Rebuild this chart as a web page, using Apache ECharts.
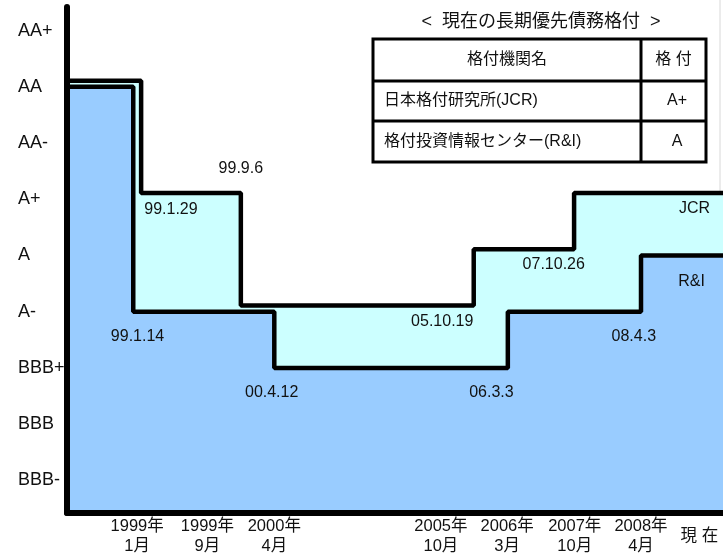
<!DOCTYPE html>
<html>
<head>
<meta charset="utf-8">
<script src="https://cdn.jsdelivr.net/npm/echarts@6/dist/echarts.min.js"></script>
<style>
  html, body { margin: 0; padding: 0; background: #fff; }
  #chart { width: 723px; height: 556px; }
</style>
</head>
<body>
<div id="chart"></div>
<script>
// rating scale, lowest first (BBB- = 1 ... AA+ = 9)
const ratingNames = ['BBB-', 'BBB', 'BBB+', 'A-', 'A', 'A+', 'AA-', 'AA', 'AA+']

// schematic time axis (0 = left edge, 100 = 現在 edge)
const xTickPos = [10.7, 21.4, 31.6, 57.0, 67.1, 77.4, 87.5, 96.4]
const xTickLabels = ['1999年\n1月', '1999年\n9月', '2000年\n4月', '2005年\n10月',
  '2006年\n3月', '2007年\n10月', '2008年\n4月', '現 在']

// rating changes
const jcrX = [0, 11.3, 26.5, 62.0, 77.3, 100]
const jcrRating = ['AA', 'A+', 'A-', 'A', 'A+', 'A+']
const riX = [0, 10.1, 31.6, 67.2, 87.5, 100]
const riRating = ['AA', 'A-', 'BBB+', 'A-', 'A', 'A']

// date notes near each change
const noteText = ['99.1.29', '99.1.14', '99.9.6', '00.4.12', '05.10.19', '06.3.3', '07.10.26', '08.4.3', 'JCR', 'R&I']
const noteX = [15.85, 10.75, 26.5, 31.2, 57.2, 64.7, 74.2, 86.4, 95.65, 95.2]
const noteY = [5.81, 3.55, 6.54, 2.57, 3.83, 2.57, 4.83, 3.55, 5.83, 4.54]

// current ratings table
const tableTitle = '<  現在の長期優先債務格付  >'
const tableHead = ['格付機関名', '格 付']
const tableAgency = ['日本格付研究所(JCR)', '格付投資情報センター(R&I)']
const tableGrade = ['A+', 'A']

const jcrOffset = 0.11 // lift JCR outline so both lines stay visible
const FONT = "'Liberation Sans', 'Noto Sans CJK JP', sans-serif"
const level = name => ratingNames.indexOf(name) + 1

const chart = echarts.init(document.getElementById('chart'))

const stepSeries = (xs, ratings, fill, offset) => ({
  type: 'line',
  step: 'end',
  showSymbol: false,
  silent: true,
  data: xs.map((x, i) => [x, level(ratings[i]) + offset]),
  lineStyle: { color: '#000', width: 4.5 },
  areaStyle: { color: fill, opacity: 1, origin: 'start' }
})

const tableX = 373, tableR = 706, colX = 641
const rowY = [39, 81, 121, 162]
const txt = (x, y, text, align, size) => ({
  type: 'text', x, y,
  style: { text, font: (size || 16) + 'px ' + FONT, fill: '#111', align, verticalAlign: 'middle' }
})

const graphic = [
  { type: 'line', shape: { x1: 720, y1: 0, x2: 720, y2: 192 }, style: { stroke: '#d8d8d8', lineWidth: 1 } },
  txt(541, 22, tableTitle, 'center', 18),
  { type: 'rect', shape: { x: tableX, y: rowY[0], width: tableR - tableX, height: rowY[3] - rowY[0] }, style: { fill: '#fff', stroke: '#000', lineWidth: 3 } },
  { type: 'line', shape: { x1: tableX, y1: rowY[1], x2: tableR, y2: rowY[1] }, style: { stroke: '#000', lineWidth: 3 } },
  { type: 'line', shape: { x1: tableX, y1: rowY[2], x2: tableR, y2: rowY[2] }, style: { stroke: '#000', lineWidth: 3 } },
  { type: 'line', shape: { x1: colX, y1: rowY[0], x2: colX, y2: rowY[3] }, style: { stroke: '#000', lineWidth: 3 } },
  txt((tableX + colX) / 2, 60, tableHead[0], 'center'),
  txt((colX + tableR) / 2, 60, tableHead[1], 'center')
]
tableAgency.forEach((name, i) => {
  const cy = (rowY[i + 1] + rowY[i + 2]) / 2
  graphic.push(txt(384, cy, name, 'left'))
  graphic.push(txt(677, cy, tableGrade[i], 'center'))
})

const option = {
  animation: false,
  backgroundColor: '#fff',
  grid: { left: 67, right: 0, top: 7, bottom: 40.5 },
  xAxis: {
    type: 'value',
    min: 0,
    max: 100,
    z: 10,
    splitLine: { show: false },
    axisTick: { show: false },
    axisLine: { lineStyle: { color: '#000', width: 6 } },
    axisLabel: {
      customValues: xTickPos,
      margin: 3,
      color: '#111',
      fontSize: 16.5,
      lineHeight: 20,
      fontFamily: FONT,
      formatter: v => {
        const i = xTickPos.findIndex(p => Math.abs(p - v) < 0.01)
        if (i < 0) return ''
        const t = xTickLabels[i]
        return t.indexOf('\n') < 0 ? '{c|' + t + '}' : t
      },
      rich: { c: { fontSize: 16.5, lineHeight: 40, fontFamily: FONT, color: '#111' } }
    }
  },
  yAxis: {
    type: 'value',
    min: 0.42,
    max: 9.42,
    z: 10,
    splitLine: { show: false },
    axisTick: { show: false },
    axisLine: { show: true, lineStyle: { color: '#000', width: 6 } },
    axisLabel: {
      customValues: ratingNames.map((_, i) => i + 1),
      formatter: v => ratingNames[Math.round(v) - 1] || '',
      align: 'left',
      margin: 49,
      color: '#111',
      fontSize: 18,
      fontFamily: FONT
    }
  },
  series: [
    stepSeries(jcrX, jcrRating, '#CCFFFF', jcrOffset),
    stepSeries(riX, riRating, '#99CCFF', 0),
    {
      type: 'scatter',
      silent: true,
      z: 10,
      symbolSize: 1,
      itemStyle: { color: 'rgba(0,0,0,0)', opacity: 1 },
      data: noteText.map((t, i) => ({ name: t, value: [noteX[i], noteY[i]] })),
      label: {
        show: true,
        position: 'inside',
        formatter: '{b}',
        color: '#111',
        fontSize: 16,
        fontFamily: FONT
      },
      labelLayout: { hideOverlap: false }
    }
  ],
  graphic
}

chart.setOption(option)
</script>
</body>
</html>
